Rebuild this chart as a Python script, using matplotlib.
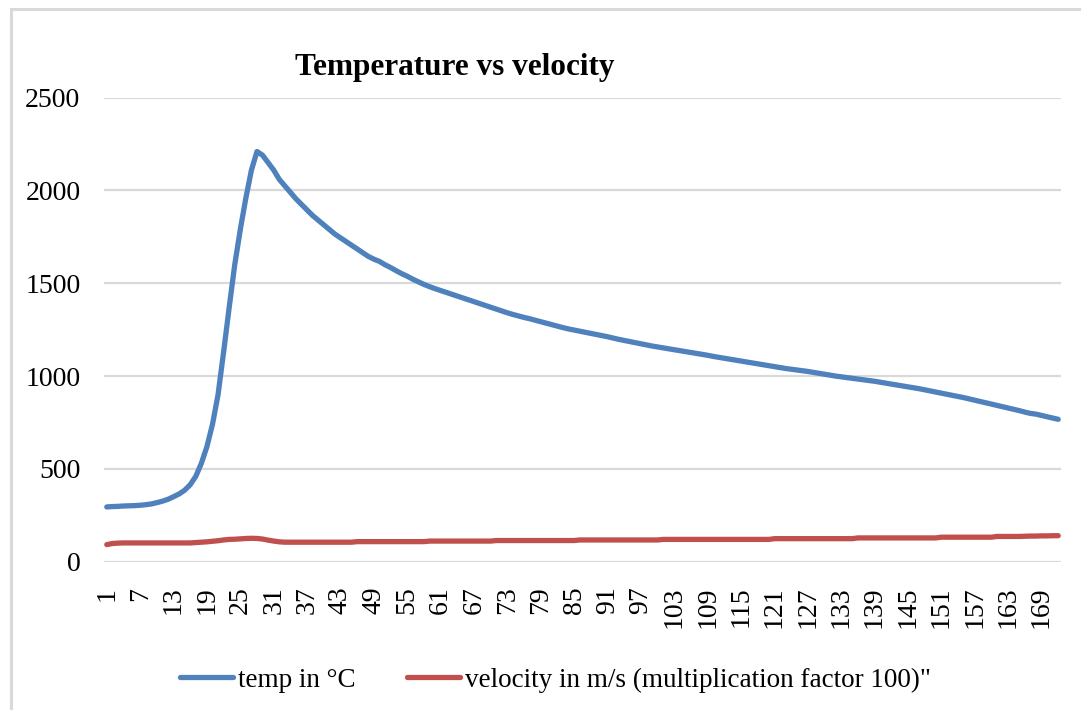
import numpy as np
import matplotlib
matplotlib.use("Agg")
import matplotlib.pyplot as plt
from matplotlib.patches import Rectangle

plt.rcParams['font.family'] = ['Liberation Serif', 'DejaVu Serif']

# temperature (°C) for samples 1..172
temp = [
    295, 297, 298, 300, 301, 302, 304, 307, 311, 318,
    326, 336, 350, 365, 385, 415, 460, 530, 620, 740,
    900, 1130, 1370, 1600, 1790, 1960, 2110, 2210, 2190, 2150,
    2110, 2060, 2025, 1990, 1955, 1925, 1895, 1865, 1840, 1815,
    1790, 1765, 1745, 1725, 1705, 1685, 1665, 1645, 1630, 1618,
    1600, 1585, 1568, 1552, 1538, 1522, 1508, 1494, 1482, 1471,
    1461, 1451, 1441, 1431, 1421, 1411, 1401, 1391, 1381, 1371,
    1361, 1351, 1341, 1332, 1324, 1316, 1309, 1301, 1293, 1285,
    1277, 1269, 1261, 1254, 1248, 1242, 1236, 1230, 1224, 1218,
    1212, 1205, 1198, 1192, 1186, 1180, 1174, 1168, 1162, 1157,
    1152, 1147, 1142, 1137, 1132, 1127, 1122, 1117, 1112, 1106,
    1101, 1096, 1091, 1086, 1081, 1076, 1071, 1066, 1061, 1056,
    1051, 1046, 1041, 1037, 1033, 1029, 1025, 1020, 1015, 1010,
    1005, 1000, 996, 992, 988, 984, 980, 976, 972, 967,
    962, 957, 952, 947, 942, 937, 932, 926, 920, 914,
    908, 902, 896, 890, 884, 877, 870, 863, 856, 849,
    842, 835, 828, 821, 814, 806, 799, 795, 788, 781,
    774, 767,
]

# velocity (m/s x 100)
velocity = [
    92, 98, 100, 101, 101, 101, 101, 101, 101, 101,
    101, 101, 101, 101, 101, 101, 103, 105, 107, 110,
    113, 117, 120, 121, 123, 125, 126, 125, 122, 116,
    111, 107, 105, 105, 105, 105, 105, 105, 105, 105,
    105, 105, 105, 105, 105, 108, 108, 108, 108, 108,
    108, 108, 108, 108, 108, 108, 108, 108, 111, 111,
    111, 111, 111, 111, 111, 111, 111, 111, 111, 111,
    114, 114, 114, 114, 114, 114, 114, 114, 114, 114,
    114, 114, 114, 114, 114, 117, 117, 117, 117, 117,
    117, 117, 117, 117, 117, 117, 117, 117, 117, 117,
    120, 120, 120, 120, 120, 120, 120, 120, 120, 120,
    120, 120, 120, 120, 120, 120, 120, 120, 120, 120,
    124, 124, 124, 124, 124, 124, 124, 124, 124, 124,
    124, 124, 124, 124, 124, 128, 128, 128, 128, 128,
    128, 128, 128, 128, 128, 128, 128, 128, 128, 128,
    132, 132, 132, 132, 132, 132, 132, 132, 132, 132,
    136, 136, 136, 136, 136, 137, 138, 138, 139, 139,
    140, 140,
]

x = np.arange(1, len(temp) + 1)
xticks = x[::6]

fig = plt.figure(figsize=(10.81, 7.10), dpi=100)
ax = fig.add_axes([0.0962, 0.2089, 0.8853, 0.6535])

# chart border (only top/left visible in the original)
fig.patches.append(Rectangle((11 / 1081, -0.1), 1.2, 1 - 9 / 710 + 0.1,
                             transform=fig.transFigure, fill=False,
                             edgecolor='#D9D9D9', linewidth=2.2))

ax.plot(x, temp, color='#4F81BD', lw=3.8, solid_capstyle='round',
        label='temp in °C')
ax.plot(x, velocity, color='#C0504D', lw=3.8, solid_capstyle='round',
        label='velocity in m/s (multiplication factor 100)"')

ax.set_xlim(0.5, len(temp) + 0.5)
ax.set_ylim(0, 2500)
ax.set_yticks(range(0, 2501, 500))
ax.set_xticks(xticks)
ax.set_xticklabels([str(v) for v in xticks], rotation=90)
ax.tick_params(axis='both', length=0, labelsize=20)
ax.tick_params(axis='y', pad=17)
ax.tick_params(axis='x', pad=18)
ax.grid(axis='y', color='#D9D9D9', lw=1.6)
ax.set_axisbelow(True)
for s in ax.spines.values():
    s.set_visible(False)

fig.text(0.421, 0.905, 'Temperature vs velocity', fontsize=22.5,
         fontweight='bold', ha='center', va='center')

fig.legend(loc='center', bbox_to_anchor=(0.514, 0.042), ncol=2, frameon=False,
           fontsize=19.5, handlelength=1.95, handletextpad=0.2,
           columnspacing=1.9)

fig.savefig('out.png', dpi=100)
